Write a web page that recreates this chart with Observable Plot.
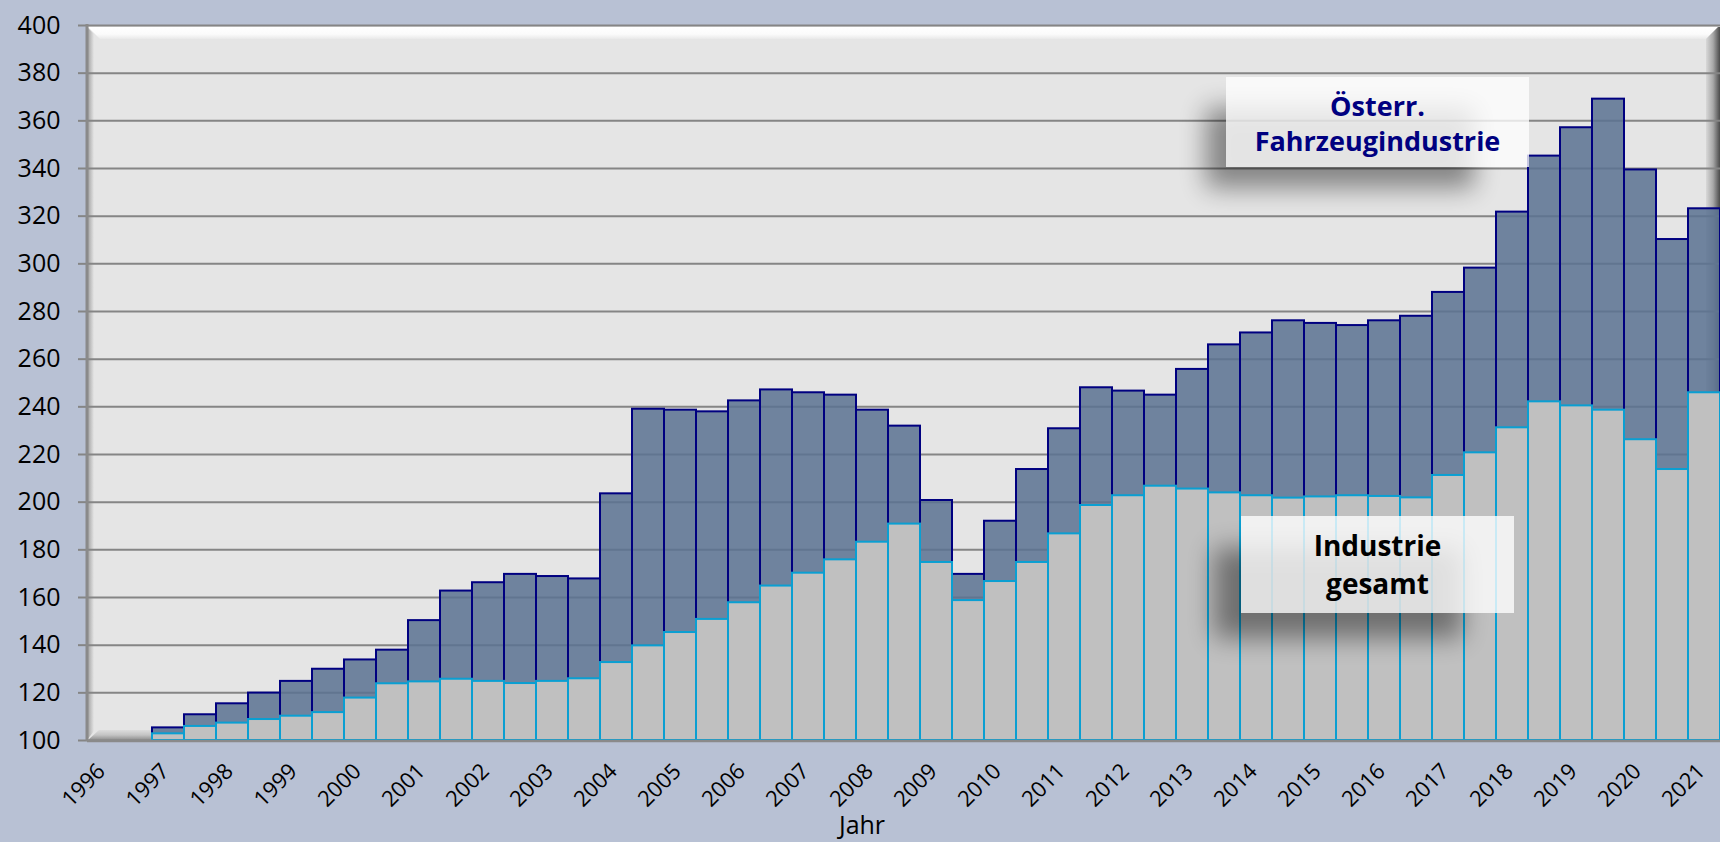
<!DOCTYPE html>
<html>
<head>
<meta charset="utf-8">
<script src="https://cdn.jsdelivr.net/npm/d3@7"></script>
<script src="https://cdn.jsdelivr.net/npm/@observablehq/plot@0.6"></script>
<style>
html, body { margin: 0; padding: 0; background: #b8c1d4; overflow: hidden; }
#chart { width: 1720px; height: 842px; }
</style>
</head>
<body>
<div id="chart"></div>
<script>
// Half-year periods (1996 H1 ... 2021 H1)
const periods = [
  "1996/1","1996/2","1997/1","1997/2","1998/1","1998/2","1999/1","1999/2",
  "2000/1","2000/2","2001/1","2001/2","2002/1","2002/2","2003/1","2003/2",
  "2004/1","2004/2","2005/1","2005/2","2006/1","2006/2","2007/1","2007/2",
  "2008/1","2008/2","2009/1","2009/2","2010/1","2010/2","2011/1","2011/2",
  "2012/1","2012/2","2013/1","2013/2","2014/1","2014/2","2015/1","2015/2",
  "2016/1","2016/2","2017/1","2017/2","2018/1","2018/2","2019/1","2019/2",
  "2020/1","2020/2","2021/1"
];

// Österr. Fahrzeugindustrie (index, 1996 = 100)
const fahrzeugindustrie = [
  100, 100, 105.3, 110.8, 115.4, 119.9, 124.8, 129.9, 133.8, 137.9,
  150.3, 162.7, 166.2, 169.7, 168.8, 167.8, 203.5, 239.0, 238.6, 237.9,
  242.5, 247.1, 245.9, 244.9, 238.6, 231.9, 200.7, 169.7, 192.0, 213.7,
  230.8, 248.0, 246.6, 244.9, 255.7, 266.0, 271.0, 276.1, 275.0, 274.1,
  276.1, 278.0, 288.0, 298.2, 321.7, 345.2, 357.1, 369.1, 339.4, 310.2,
  323.1
];

// Industrie gesamt (index, 1996 = 100)
const industrieGesamt = [
  100, 100, 102.8, 105.9, 107.3, 108.8, 110.2, 111.7, 117.8, 123.8,
  124.6, 125.7, 124.8, 123.9, 124.8, 125.9, 132.7, 139.7, 145.3, 150.8,
  157.8, 164.8, 170.2, 175.8, 183.2, 190.8, 174.7, 158.7, 166.7, 174.7,
  186.7, 198.6, 202.7, 206.7, 205.5, 203.9, 202.7, 201.7, 202.2, 202.7,
  202.4, 201.8, 211.2, 220.7, 231.2, 242.1, 240.4, 238.6, 226.2, 213.7,
  245.9
];

// Axis tick labels
const yTicks = [100, 120, 140, 160, 180, 200, 220, 240, 260, 280, 300, 320, 340, 360, 380, 400];
const yearLabels = [
  "1996","1997","1998","1999","2000","2001","2002","2003","2004","2005","2006","2007","2008",
  "2009","2010","2011","2012","2013","2014","2015","2016","2017","2018","2019","2020","2021"
];
const xTitle = "Jahr";
const labelFahrzeug = ["Österr.", "Fahrzeugindustrie"];
const labelIndustrie = ["Industrie", "gesamt"];

const data = periods.map((p, i) => ({ period: p, fz: fahrzeugindustrie[i], ind: industrieGesamt[i] }));
const xTicks = yearLabels.map(y => ({ period: y + "/1", label: y }));

const chart = Plot.plot({
  width: 1720,
  height: 842,
  marginLeft: 87,
  marginRight: 0,
  marginTop: 25,
  marginBottom: 102,
  style: { background: "transparent", fontFamily: "'Open Sans', sans-serif", overflow: "visible" },
  x: { type: "band", domain: periods, padding: 0, label: null, axis: null },
  y: { domain: [100, 400], label: null },
  marks: [
    Plot.frame({ fill: "#e5e5e5", stroke: null }),
    Plot.ruleY(yTicks, { stroke: "#858585", strokeWidth: 2 }),
    Plot.barY(data.filter(d => d.fz > 100), {
      x: "period", y1: 100, y2: "fz", inset: 0,
      fill: "#5b7292", fillOpacity: 0.86, stroke: "#000080", strokeWidth: 2
    }),
    Plot.barY(data.filter(d => d.ind > 100), {
      x: "period", y1: 100, y2: "ind", inset: 0,
      fill: "#c0c0c0", stroke: "#0a9fd2", strokeWidth: 2
    }),
    Plot.axisY(yTicks, {
      tickSize: 9, tickPadding: 18, fontSize: 25, fill: "#000",
      stroke: "#858585", strokeWidth: 2, label: null
    }),
    Plot.text(xTicks, {
      x: "period", text: "label", frameAnchor: "bottom", dy: 32, dx: 2,
      rotate: -45, textAnchor: "end", lineAnchor: "bottom",
      fontSize: 22, fill: "#000"
    })
  ]
});

document.getElementById("chart").appendChild(chart);

// ---- decoration (plot-area bevel, axis lines, annotations) ----
const svg = d3.select(chart);
const xs = chart.scale("x"), ys = chart.scale("y");
const L = xs.range[0], R = xs.range[1];
const T = ys.apply(400), B = ys.apply(100);

const defs = svg.insert("defs", ":first-child");
const gTop = defs.append("linearGradient").attr("id", "gTop").attr("x1", 0).attr("y1", 0).attr("x2", 0).attr("y2", 1);
gTop.append("stop").attr("offset", 0).attr("stop-color", "#ffffff");
gTop.append("stop").attr("offset", 0.6).attr("stop-color", "#fbfbfb");
gTop.append("stop").attr("offset", 1).attr("stop-color", "#e9e9e9");
const gLeft = defs.append("linearGradient").attr("id", "gLeft").attr("x1", 0).attr("y1", 0).attr("x2", 1).attr("y2", 0);
gLeft.append("stop").attr("offset", 0).attr("stop-color", "#9a9a9a");
gLeft.append("stop").attr("offset", 1).attr("stop-color", "#e5e5e5");
const gRight = defs.append("linearGradient").attr("id", "gRight").attr("x1", 0).attr("y1", 0).attr("x2", 1).attr("y2", 0);
gRight.append("stop").attr("offset", 0).attr("stop-color", "#d8d8d8");
gRight.append("stop").attr("offset", 0.5).attr("stop-color", "#a8a8a8");
gRight.append("stop").attr("offset", 1).attr("stop-color", "#4a4a4a");
const gFloor = defs.append("linearGradient").attr("id", "gFloor").attr("x1", 0).attr("y1", 0).attr("x2", 0).attr("y2", 1);
gFloor.append("stop").attr("offset", 0).attr("stop-color", "#dcdcdc");
gFloor.append("stop").attr("offset", 0.5).attr("stop-color", "#c4c4c4");
gFloor.append("stop").attr("offset", 1).attr("stop-color", "#8e8e8e");
const blur = defs.append("filter").attr("id", "shadowBlur")
  .attr("x", "-40%").attr("y", "-80%").attr("width", "180%").attr("height", "260%");
blur.append("feGaussianBlur").attr("stdDeviation", 13);

// bevel group placed right after the frame
const frameEl = chart.querySelector('[aria-label="frame"]');
const bevel = document.createElementNS("http://www.w3.org/2000/svg", "g");
frameEl.after(bevel);
const bg = d3.select(bevel);
bg.append("polygon").attr("points", `${L+1},${T+2} ${R-2},${T+2} ${R-14},${T+14} ${L+13},${T+14}`).attr("fill", "url(#gTop)");
bg.append("polygon").attr("points", `${L},${T+2} ${L+7},${T+9} ${L+7},${B-9} ${L},${B}`).attr("fill", "url(#gLeft)");
bg.append("polygon").attr("points", `${R-14},${T+14} ${R-2},${T+2} ${R},${T+2} ${R},${B} ${R-14},${B-10}`).attr("fill", "url(#gRight)");
bg.append("polygon").attr("points", `${L+1},${B} ${L+12},${B-10} ${R-14},${B-10} ${R},${B}`).attr("fill", "url(#gFloor)");

// axis lines
svg.append("line").attr("x1", L).attr("x2", L).attr("y1", T - 1).attr("y2", B + 1)
  .attr("stroke", "#8a8a8a").attr("stroke-width", 3);
svg.append("line").attr("x1", L).attr("x2", R).attr("y1", B + 1).attr("y2", B + 1)
  .attr("stroke", "#8a8a8a").attr("stroke-width", 2.5);

// x axis title
svg.append("text").attr("x", 862).attr("y", 834).attr("text-anchor", "middle")
  .attr("font-family", "'Open Sans', sans-serif").attr("font-size", 25).attr("fill", "#000").text(xTitle);

// annotation boxes
function note(box, shadow, lines, color, baselines, size) {
  svg.append("rect").attr("x", shadow[0]).attr("y", shadow[1]).attr("width", shadow[2]).attr("height", shadow[3])
    .attr("fill", "#000").attr("opacity", 0.42).attr("filter", "url(#shadowBlur)");
  svg.append("rect").attr("x", box[0]).attr("y", box[1]).attr("width", box[2]).attr("height", box[3])
    .attr("fill", "#ffffff").attr("fill-opacity", 0.78);
  const t = svg.append("text").attr("text-anchor", "middle")
    .attr("font-family", "'Open Sans', sans-serif").attr("font-weight", "bold")
    .attr("font-size", size).attr("fill", color);
  lines.forEach((s, i) => t.append("tspan").attr("x", box[0] + box[2] / 2).attr("y", baselines[i]).text(s));
}
note([1226, 77, 303, 90], [1206, 108, 268, 80], labelFahrzeug, "#000080", [116, 151], 27);
note([1241, 516, 273, 97], [1214, 548, 248, 90], labelIndustrie, "#000000", [556, 594], 28);
</script>
</body>
</html>
